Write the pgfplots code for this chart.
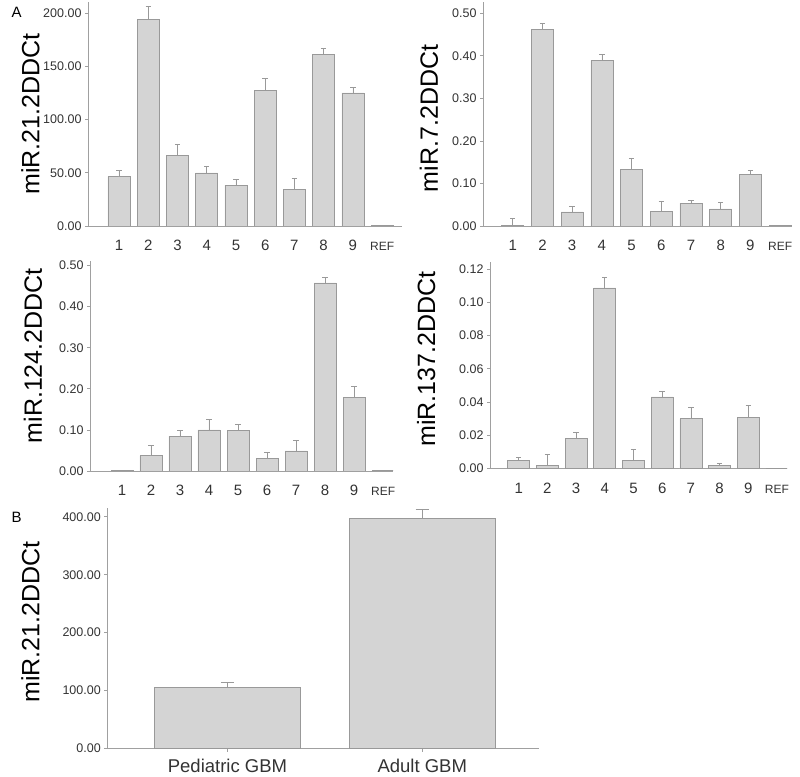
\documentclass[border=0pt]{standalone}
\usepackage{fontspec}
\setmainfont{Liberation Sans}
\usepackage{pgfplots}
\pgfplotsset{compat=1.18}
\definecolor{barfill}{HTML}{D4D4D4}
\definecolor{baredge}{HTML}{999999}
\definecolor{axcol}{HTML}{A0A0A0}
\definecolor{txt}{HTML}{333333}
\pgfplotsset{
 panel/.style={
  scale only axis, anchor=south west,
  axis x line=bottom, axis y line=left,
  axis line style={draw=axcol, line width=0.8pt, -},
  ymin=0, scaled y ticks=false,
  tick align=outside,
  ytick style={draw=axcol, line width=0.8pt},
  major tick length=3pt,
  xtick style={draw=none},
  xtick={1,...,10},
  xticklabels={1,2,3,4,5,6,7,8,9,{\fontsize{12}{12}\selectfont REF}},
  x tick label style={font=\fontsize{15}{15}\selectfont, text=txt, anchor=base, yshift=-22pt},
  y tick label style={font=\fontsize{12.5}{12.5}\selectfont, text=txt},
  yticklabel style={/pgf/number format/fixed, /pgf/number format/fixed zerofill, /pgf/number format/precision=2, /pgf/number format/1000 sep={}, /pgf/number format/assume math mode=true},
  ylabel style={font=\fontsize{25}{25}\selectfont, text=black, anchor=center},
 },
 bars/.style={ybar, bar shift=0pt, fill=barfill, draw=baredge, line width=0.6pt},
 errs/.style={/pgfplots/error bars/y dir=plus, /pgfplots/error bars/y explicit,
   /pgfplots/error bars/error bar style={draw=baredge, line width=0.7pt},
   /pgfplots/error bars/error mark options={rotate=90, draw=baredge, line width=0.7pt, mark size=#1}},
 errs/.default=2.7pt,
}
\begin{document}
\begin{tikzpicture}
\useasboundingbox (0,0) rectangle (800pt,776pt);
% Panel A1
\begin{axis}[panel, at={(88pt,550pt)}, width=314pt, height=223.7pt,
  xmin=-0.06, xmax=10.68, ymax=210, ytick={0,50,100,150,200},
  bar width=22pt, ylabel={miR.21.2DDCt},
  ylabel style={at={(axis description cs:-0.183,0.5)}}]
\addplot[bars, errs] table[x=x, y=y, y error=e] {
x y e
1 46.2 5.6
2 194.3 12.0
3 65.9 11.0
4 49.9 5.7
5 38.3 5.7
6 127.5 11.3
7 34.5 9.8
8 160.8 6.2
9 125.0 5.3
};
\addplot[bars] coordinates {(10,0.8)};
\end{axis}
% Panel A2
\begin{axis}[panel, at={(483pt,550pt)}, width=309pt, height=224pt,
  xmin=0, xmax=10.4, ymax=0.5266, ytick={0,0.1,0.2,0.3,0.4,0.5},
  bar width=22pt, ylabel={miR.7.2DDCt},
  ylabel style={at={(axis description cs:-0.175,0.48)}}]
\addplot[bars, errs] table[x=x, y=y, y error=e] {
x y e
1 0.002 0.015
2 0.463 0.013
3 0.033 0.014
4 0.389 0.014
5 0.133 0.027
6 0.034 0.025
7 0.053 0.007
8 0.040 0.016
9 0.122 0.008
};
\addplot[bars] coordinates {(10,0.001)};
\end{axis}
% Panel A3
\begin{axis}[panel, at={(90pt,305pt)}, width=303pt, height=209.5pt,
  xmin=-0.1, xmax=10.34, ymax=0.51, ytick={0,0.1,0.2,0.3,0.4,0.5},
  bar width=22pt, ylabel={miR.124.2DDCt},
  ylabel style={at={(axis description cs:-0.188,0.55)}}]
\addplot[bars, errs] table[x=x, y=y, y error=e] {
x y e
1 0.001 0.001
2 0.037 0.025
3 0.084 0.015
4 0.100 0.026
5 0.099 0.015
6 0.031 0.015
7 0.049 0.025
8 0.458 0.014
9 0.179 0.027
};
\addplot[bars] coordinates {(10,0.001)};
\end{axis}
% Panel A4
\begin{axis}[panel, at={(490pt,307.3pt)}, width=297pt, height=206.7pt,
  xmin=0, xmax=10.35, ymax=0.1242, ytick={0,0.02,0.04,0.06,0.08,0.10,0.12},
  bar width=22pt, ylabel={miR.137.2DDCt},
  ylabel style={at={(axis description cs:-0.215,0.53)}}]
\addplot[bars, errs] table[x=x, y=y, y error=e] {
x y e
1 0.0048 0.0020
2 0.0022 0.0066
3 0.0180 0.0038
4 0.1086 0.0064
5 0.0052 0.0064
6 0.0431 0.0036
7 0.0300 0.0069
8 0.0022 0.0008
9 0.0310 0.0070
};
\addplot[bars] coordinates {(10,0.0003)};
\end{axis}
% Panel B
\begin{axis}[panel, at={(107.3pt,27.5pt)}, width=432pt, height=240.9pt,
  xmin=0.383, xmax=2.601, ymax=416, ytick={0,100,200,300,400},
  xtick={1,2}, xticklabels={Pediatric GBM, Adult GBM},
  xtick style={draw=axcol, line width=0.8pt},
  x tick label style={font=\fontsize{18.5}{18.5}\selectfont, yshift=1.5pt},
  bar width=146pt, ylabel={miR.21.2DDCt},
  ylabel style={at={(axis description cs:-0.178,0.525)}}]
\addplot[bars, errs=6.5pt] table[x=x, y=y, y error=e] {
x y e
1 106.2 8.7
2 397.6 16.0
};
\end{axis}
\node[anchor=base west, font=\fontsize{15}{15}\selectfont] at (8pt,758pt) {A};
\node[anchor=base west, font=\fontsize{15}{15}\selectfont] at (8pt,253pt) {B};
\end{tikzpicture}
\end{document}
